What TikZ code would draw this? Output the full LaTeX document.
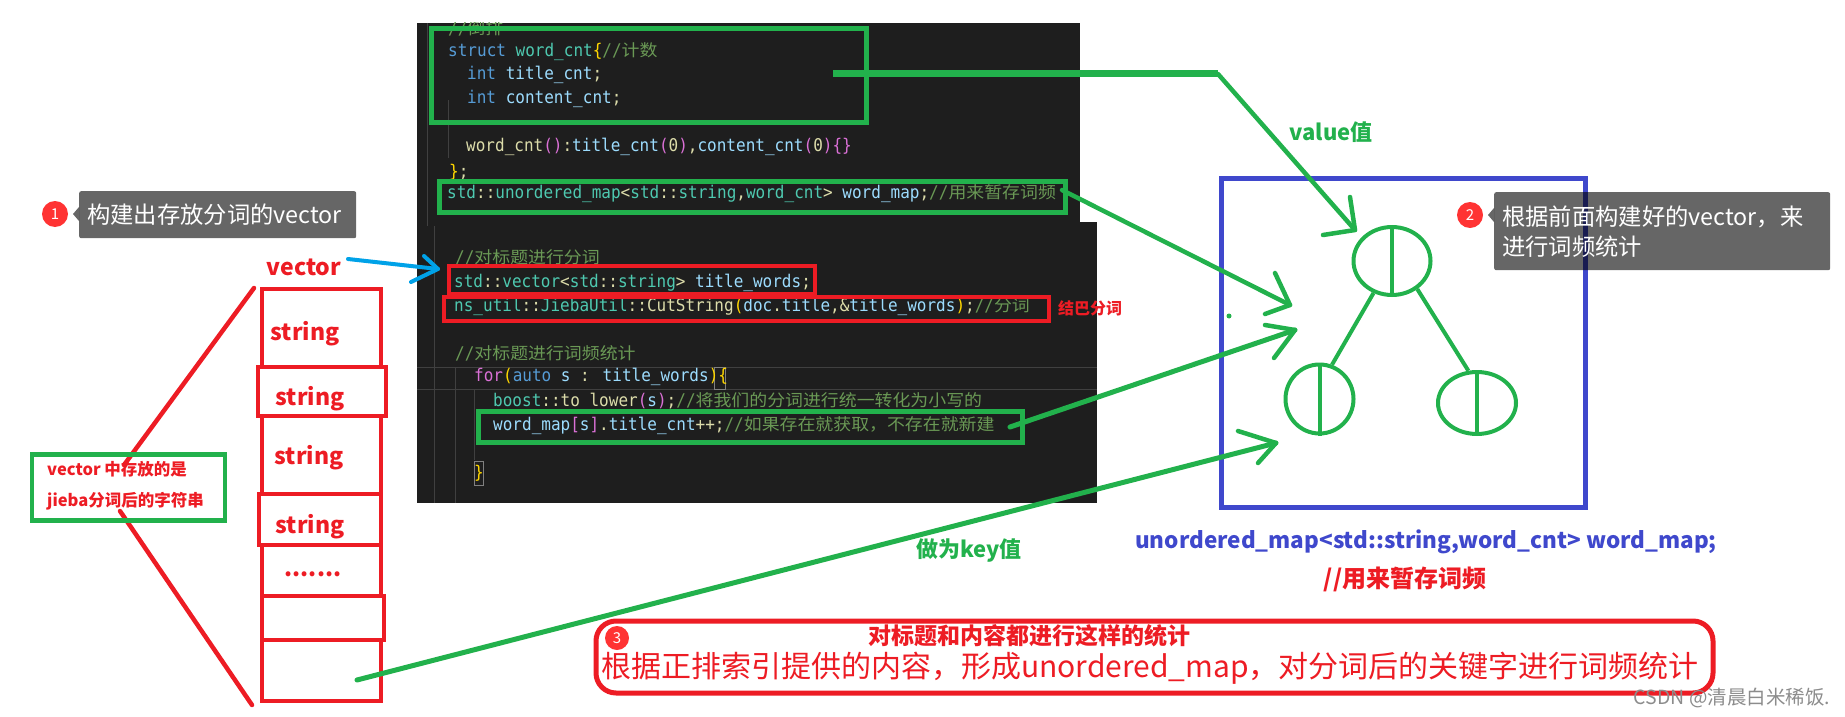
\documentclass[tikz,border=0pt]{standalone}
\usepackage{fontspec}
\usepackage{xcolor}
\usetikzlibrary{calc, positioning, shapes.geometric}

\newfontfamily\cjk{Noto Sans CJK SC}
\newfontfamily\cjkcode[FakeStretch=1.085]{Noto Sans CJK SC}
\newfontfamily\codefont[FakeStretch=0.915]{DejaVu Sans Mono}

\definecolor{markgreen}{HTML}{22B14C}
\definecolor{markred}{HTML}{ED1C24}
\definecolor{markblue}{HTML}{3F48CC}
\definecolor{markcyan}{HTML}{00A2E8}
\definecolor{panelgray}{HTML}{1E1E1E}
\definecolor{guidegray}{HTML}{404040}
\definecolor{bracegray}{HTML}{808080}
\definecolor{codekey}{HTML}{569CD6}
\definecolor{codetype}{HTML}{4EC9B0}
\definecolor{codevar}{HTML}{9CDCFE}
\definecolor{codefunc}{HTML}{DCDCAA}
\definecolor{codenote}{HTML}{6A9955}
\definecolor{codegold}{HTML}{FFD700}
\definecolor{codepink}{HTML}{DA70D6}

\newcommand{\ckey}[1]{\textcolor{codekey}{#1}}
\newcommand{\ctype}[1]{\textcolor{codetype}{#1}}
\newcommand{\cvar}[1]{\textcolor{codevar}{#1}}
\newcommand{\cgold}[1]{\textcolor{codegold}{#1}}
\newcommand{\cpink}[1]{\textcolor{codepink}{#1}}
\newcommand{\cnote}[1]{\textcolor{codenote}{//{\fontsize{16.5}{19}\cjkcode #1}}}

\tikzset{
    codeline/.style={anchor=west, inner sep=0pt, text=codefunc, font=\fontsize{17.5}{20}\codefont},
    greenbox/.style={draw=markgreen, line width=5pt},
    redbox/.style={draw=markred, line width=4.5pt},
    vecbox/.style={draw=markred, line width=4.5pt},
    greenline/.style={draw=markgreen, line width=4.5pt, line cap=round, line join=round},
    redline/.style={draw=markred, line width=4.5pt, line cap=round},
    blueline/.style={draw=markcyan, line width=4pt, line cap=round, line join=round},
    redlabel/.style={text=markred, inner sep=0pt, font=\fontsize{23}{28}\cjk\bfseries},
    greenlabel/.style={text=markgreen, inner sep=0pt, font=\fontsize{22}{26}\cjk\bfseries},
    tipbox/.style={fill=black, fill opacity=0.6, text opacity=1, text=white, anchor=north west, rounded corners=2pt,
        inner xsep=8pt, inner ysep=0pt, align=left, font=\fontsize{23.3}{30}\cjk},
    badge/.style={circle, fill=red!80!white, text=white, inner sep=0pt, minimum size=26pt, font=\fontsize{15}{18}\cjk},
    treenode/.style={draw=markgreen, line width=4pt, ellipse, inner sep=0pt},
    guide/.style={draw=guidegray, line width=1pt},
}

\begin{document}
\begin{tikzpicture}[x=1pt, y=-1pt]
    \useasboundingbox (0,0) rectangle (1845,717);

    % code panels
    \fill[panelgray] (417,23) rectangle (1080,222);
    \fill[panelgray] (417,222) rectangle (1097,503);
    \foreach \xa/\ya/\yb in {427/23/226, 448/100/158, 434/226/503, 455/367/503, 474/390/460} {
        \draw[guide] (\xa,\ya) -- (\xa,\yb);
    }
    \draw[guide] (417,367) -- (1097,367);
    \draw[guide] (417,389) -- (1097,389);
    \draw[bracegray, line width=1pt] (714,367) rectangle (725,389);
    \draw[bracegray, line width=1pt] (474,461) rectangle (483,485);

    \begin{scope}
        \clip (417,23) rectangle (1080,60);
        \node[codeline] (lineSort) at (448,28) {\cnote{倒排}};
    \end{scope}
    \node[codeline] (lineStruct) at (448,52) {\ckey{struct} \ctype{word\_cnt}\cgold{\{}\cnote{计数}};
    \node[codeline] (lineTitle) at (467,75) {\ckey{int} \cvar{title\_cnt};};
    \node[codeline] (lineContent) at (467,99) {\ckey{int} \cvar{content\_cnt};};
    \node[codeline] (lineCtor) at (466,147) {word\_cnt\cpink{()}:\cvar{title\_cnt}\cpink{(}0\cpink{)},\cvar{content\_cnt}\cpink{(}0\cpink{)\{\}}};
    \node[codeline] (lineClose) at (449,172) {\cgold{\}};};
    \node[codeline] (lineMap) at (447,194) {\ctype{std}::\ctype{unordered\_map}<\ctype{std}::\ctype{string},\ctype{word\_cnt}> \cvar{word\_map};\cnote{用来暂存词频}};
    \node[codeline] (lineCut) at (455,257) {\cnote{对标题进行分词}};
    \node[codeline] (lineVec) at (454,283) {\ctype{std}::\ctype{vector}<\ctype{std}::\ctype{string}> \cvar{title\_words};};
    \node[codeline] (lineJieba) at (454,307) {\ctype{ns\_util}::\ctype{JiebaUtil}::CutString\cgold{(}\cvar{doc}.\cvar{title},\&\cvar{title\_words}\cgold{)};\cnote{分词}};
    \node[codeline] (lineCount) at (455,353) {\cnote{对标题进行词频统计}};
    \node[codeline] (lineFor) at (474,377) {\cpink{for}\cgold{(}\ckey{auto} \cvar{s} : \cvar{title\_words}\cgold{)\{}};
    \node[codeline] (lineLower) at (493,402) {\ctype{boost}::to\_lower\cpink{(}\cvar{s}\cpink{)};\cnote{将我们的分词进行统一转化为小写的}};
    \node[codeline] (lineWord) at (493,426) {\cvar{word\_map}\cpink{[}\cvar{s}\cpink{]}.\cvar{title\_cnt}++;\cnote{如果存在就获取，不存在就新建}};
    \node[codeline] (lineEnd) at (474,473) {\cgold{\}}};

    % marks on the code
    \node[greenbox, minimum width=435pt, minimum height=93pt] (structBox) at (648.5,75.5) {};
    \node[greenbox, minimum width=626pt, minimum height=31pt] (mapBox) at (752,196.5) {};
    \node[redbox, minimum width=366pt, minimum height=28pt] (vecBox) at (632,280) {};
    \node[redbox, minimum width=605pt, minimum height=24pt] (cutBox) at (746.5,309) {};
    \node[greenbox, minimum width=544pt, minimum height=31pt] (wordBox) at (750.5,426.5) {};
    \node[text=markred, inner sep=0pt, font=\fontsize{16}{20}\cjk\bfseries] (jiebaLabel) at (1090,308) {结巴分词};

    % left part
    \node[tipbox, text width=261pt, minimum height=47pt] (tipOne) at (79,191) {构建出存放分词的vector};
    \fill[black, opacity=0.6] (79,207) -- (73,214) -- (79,221) -- cycle;
    \node[badge] (badgeOne) at (55,214) {1};
    \node[redlabel] (vecLabel) at (304,267) {vector};

    \coordinate (fanTop) at (254,288);
    \coordinate (fanTopEnd) at (124,465);
    \coordinate (fanBot) at (252,705);
    \coordinate (fanBotEnd) at (120,511);
    \draw[redline] (fanTop) -- (fanTopEnd);
    \draw[redline] (fanBot) -- (fanBotEnd);

    \foreach \n/\cx/\cy/\w/\h in {vecA/321.5/328/119/78, vecC/321.5/455/119/78, vecE/321.5/570.5/119/51,
        vecG/321.5/670.5/119/61, vecB/322/391.5/128/49, vecD/320/519.5/122/51, vecF/323/618/122/44} {
        \node[vecbox, minimum width=\w pt, minimum height=\h pt] (\n) at (\cx,\cy) {};
    }
    \foreach \n/\cx/\cy in {strA/305/334, strB/310/399, strC/309/458, strD/310/527} {
        \node[redlabel] (\n) at (\cx,\cy) {string};
    }
    \node[redlabel] (vecDots) at (313,574) {.......};

    \node[greenbox, line width=4.5pt, minimum width=193pt, minimum height=66pt] (noteBox) at (128.5,487.5) {};
    \node[anchor=west, text=markred, inner sep=0pt, font=\fontsize{16.5}{20}\cjk\bfseries] (noteA) at (47,469) {vector 中存放的是};
    \node[anchor=west, text=markred, inner sep=0pt, font=\fontsize{16.5}{20}\cjk\bfseries] (noteB) at (47,501) {jieba分词后的字符串};

    % tree on the right
    \node[draw=markblue, line width=5pt, minimum width=364pt, minimum height=329pt] (mapFrame) at (1403,342.5) {};
    \node[treenode, minimum width=77pt, minimum height=68pt] (treeTop) at (1392,261) {};
    \node[treenode, minimum width=68pt, minimum height=69pt] (treeLeft) at (1319.5,399) {};
    \node[treenode, minimum width=78pt, minimum height=62pt] (treeRight) at (1477,403) {};
    \foreach \n in {treeTop, treeLeft, treeRight} {
        \draw[markgreen, line width=4pt] (\n.north) -- (\n.south);
    }
    \draw[markgreen, line width=4pt] (treeTop.-120) -- (treeLeft.70);
    \draw[markgreen, line width=4pt] (treeTop.-48) -- (treeRight.105);
    \fill[markgreen] (1229,316) circle (2.5);

    \node[tipbox, text width=320pt, minimum height=78pt] (tipTwo) at (1494,192) {根据前面构建好的vector，来\\进行词频统计};
    \fill[black, opacity=0.6] (1494,208) -- (1488,215) -- (1494,222) -- cycle;
    \node[badge] (badgeTwo) at (1470,215) {2};

    % arrows
    \coordinate (valueFrom) at (833,74);
    \coordinate (valueBend) at (1218,74);
    \coordinate (valueTip) at (1355,230);
    \draw[markgreen, line width=7pt] (valueFrom) -- (valueBend);
    \draw[greenline] (valueBend) -- (valueTip);
    \draw[greenline] (1350,197) -- (valueTip) -- (1323,235);

    \coordinate (mapFrom) at (1062,190);
    \coordinate (mapTip) at (1290,305);
    \draw[greenline] (mapFrom) -- (mapTip);
    \draw[greenline] (1275,273) -- (mapTip) -- (1265,314);

    \coordinate (wordFrom) at (1010,427);
    \coordinate (wordTip) at (1295,330);
    \draw[greenline, line width=5pt] (wordFrom) -- (wordTip);
    \draw[greenline] (1265,325) -- (wordTip) -- (1274,358);

    \coordinate (keyFrom) at (357,680);
    \coordinate (keyTip) at (1276,443);
    \draw[greenline, line width=5pt] (keyFrom) -- (keyTip);
    \draw[greenline] (1238,431) -- (keyTip) -- (1258,463);

    \coordinate (vecFrom) at (348,259);
    \coordinate (vecTip) at (438,269);
    \draw[blueline] (vecFrom) -- (vecTip);
    \draw[blueline] (424,256) -- (vecTip) -- (411,282);

    % labels
    \node[greenlabel] (valueLabel) at (1331,132) {value值};
    \node[greenlabel] (keyLabel) at (969,550) {做为key值};
    \node[text=markblue, inner sep=0pt, font=\fontsize{22.5}{28}\cjk\bfseries] (mapTitle) at (1426,542) {unordered\_map<std::string,word\_cnt> word\_map;};
    \node[redlabel, font=\fontsize{24}{28}\cjk\bfseries] (mapNote) at (1405,579) {//用来暂存词频};

    % bottom box
    \node[draw=markred, line width=5pt, rounded corners=20pt, minimum width=1117pt, minimum height=72pt] (stepBox) at (1154.5,657) {};
    \node[badge, minimum size=24pt] (badgeThree) at (617,638) {3};
    \node[text=markred, inner sep=0pt, font=\fontsize{23}{26}\cjk\bfseries] (stepTitle) at (1029,636) {对标题和内容都进行这样的统计};
    \node[text=markred, inner sep=0pt, font=\fontsize{30}{36}\cjk] (stepText) at (1150,668) {根据正排索引提供的内容，形成unordered\_map，对分词后的关键字进行词频统计};
    \node[text=black!45, inner sep=0pt, font=\fontsize{19.5}{22}\cjk] (markText) at (1732,698) {CSDN @清晨白米稀饭.};
\end{tikzpicture}
\end{document}
